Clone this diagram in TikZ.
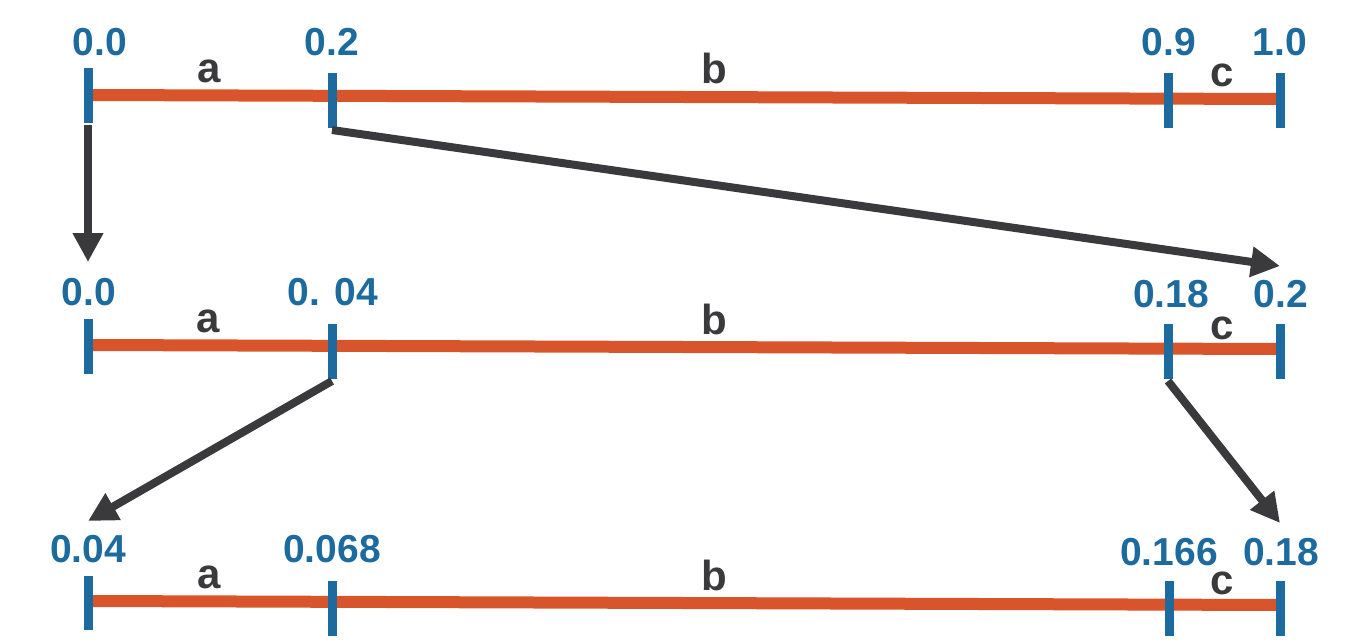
\documentclass[tikz,border=0pt]{standalone}
\usepackage{fontspec}
\setmainfont{Liberation Sans}
\usetikzlibrary{arrows.meta}
\definecolor{tickblue}{HTML}{1D6A9F}
\definecolor{segred}{HTML}{D8552C}
\definecolor{arrgray}{HTML}{3A3A3C}
\tikzset{
  num/.style={anchor=base, inner sep=0pt, text=tickblue, font=\fontsize{39}{39}\selectfont\bfseries},
  seglbl/.style={anchor=base, inner sep=0pt, text=arrgray, font=\fontsize{42}{42}\selectfont\bfseries},
  seg/.style={draw=segred, line width=12pt},
  tick/.style={draw=tickblue, line width=9pt},
  jump/.style={draw=arrgray, line width=8pt, -{Triangle[length=29pt,width=29pt]}}
}
\begin{document}
\begin{tikzpicture}[x=1pt,y=-1pt]
\useasboundingbox (0,0) rectangle (1354,641);
% ---------- row 1 ----------
\coordinate (r1a) at (92,95);
\coordinate (r1d) at (1280,99);
\draw[seg] (r1a) -- (r1d);
\draw[tick] (88,68) -- (88,123);
\draw[tick] (332,73) -- (332,128);
\draw[tick] (1168,73) -- (1168,128);
\draw[tick] (1280,73) -- (1280,128);
\coordinate (s1a) at (88,125);
\coordinate (s1b) at (332,130);
\node[num] (n10) at (100,55) {0.0};
\node[num] (n12) at (332,55) {0.2};
\node[num] (n19) at (1169,55) {0.9};
\node[num] (n11) at (1280,55) {1.0};
\node[seglbl] (l1a) at (209,82) {a};
\node[seglbl] (l1b) at (714,83) {b};
\node[seglbl] (l1c) at (1222,86) {c};
% ---------- row 2 ----------
\coordinate (r2a) at (92,345);
\coordinate (r2d) at (1280,349);
\draw[seg] (r2a) -- (r2d);
\draw[tick] (88,319) -- (88,374);
\draw[tick] (332,324) -- (332,379);
\draw[tick] (1168,324) -- (1168,379);
\draw[tick] (1280,324) -- (1280,379);
\coordinate (s2b) at (332,381);
\coordinate (s2c) at (1168,381);
\coordinate (e2a) at (88,262);
\coordinate (e2d) at (1280,266);
\node[num] (n20) at (89,305) {0.0};
\node[num] (n204) at (333,305) {0. 04};
\node[num] (n218) at (1171,307) {0.18};
\node[num] (n22) at (1281,307) {0.2};
\node[seglbl] (l2a) at (208,332) {a};
\node[seglbl] (l2b) at (714,334) {b};
\node[seglbl] (l2c) at (1222,339) {c};
% ---------- row 3 ----------
\coordinate (r3a) at (92,601);
\coordinate (r3d) at (1280,605);
\draw[seg] (r3a) -- (r3d);
\draw[tick] (88,576) -- (88,630);
\draw[tick] (332,581) -- (332,636);
\draw[tick] (1169,581) -- (1169,636);
\draw[tick] (1280,581) -- (1280,636);
\coordinate (e3a) at (88,521);
\coordinate (e3d) at (1280,523);
\node[num] (n304) at (88,562) {0.04};
\node[num] (n3068) at (332,562) {0.068};
\node[num] (n3166) at (1169,565) {0.166};
\node[num] (n318) at (1281,565) {0.18};
\node[seglbl] (l3a) at (209,588) {a};
\node[seglbl] (l3b) at (714,590) {b};
\node[seglbl] (l3c) at (1222,594) {c};
% ---------- arrows ----------
\draw[jump] (s1a) -- (e2a);
\draw[jump] (s1b) -- (e2d);
\draw[jump] (s2b) -- (e3a);
\draw[jump] (s2c) -- (e3d);
\end{tikzpicture}
\end{document}
